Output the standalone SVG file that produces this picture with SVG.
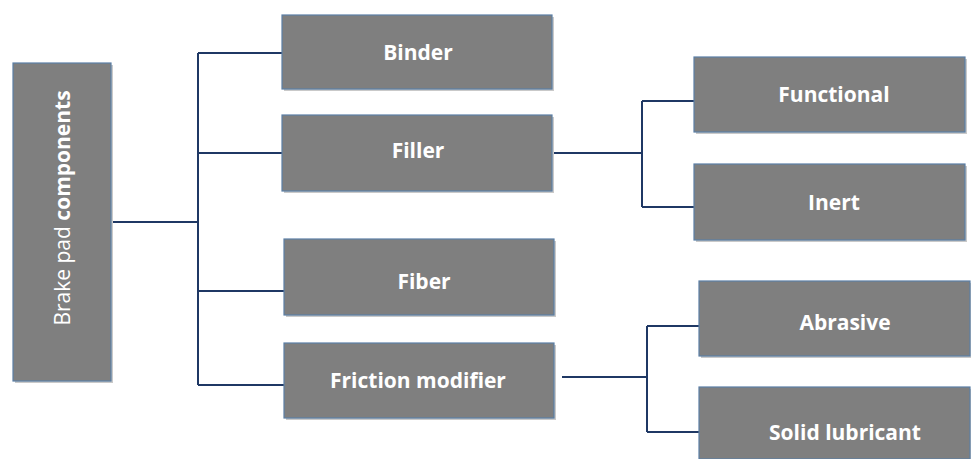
<svg xmlns="http://www.w3.org/2000/svg" width="971" height="459" viewBox="0 0 971 459">
  <style>
    .box { fill: #7f7f7f; stroke: #5b7fa6; stroke-width: 1.2; }
    .shadow { fill: #c9c9c9; }
    .lbl { fill: #ffffff; font-family: "Open Sans", "Liberation Sans", sans-serif; font-weight: 700; font-size: 21px; text-anchor: middle; dominant-baseline: central; }
    .root { fill: #ffffff; font-family: "Open Sans", "Liberation Sans", sans-serif; font-size: 21px; text-anchor: middle; dominant-baseline: central; }
    .wire { fill: none; stroke: #1f3864; stroke-width: 2; }
  </style>
  <rect width="971" height="459" fill="#ffffff"/>

  <g id="connectors">
    <path class="wire" d="M111 222 H198 M198 53 V385 M198 53 H282 M198 153 H282 M198 291 H284 M198 385 H284"/>
    <path class="wire" d="M552 153 H642 M642 101 V207 M642 101 H694 M642 207 H694"/>
    <path class="wire" d="M562 377 H647 M647 326 V432 M647 326 H699 M647 432 H699"/>
  </g>

  <g id="root">
    <rect class="shadow" x="15" y="65" width="98" height="318"/>
    <rect class="box" x="13" y="63" width="98" height="318"/>
    <text class="root" transform="translate(62 208) rotate(-90)">Brake pad <tspan font-weight="700">components</tspan></text>
  </g>

  <g id="binder">
    <rect class="shadow" x="284" y="17" width="270" height="74"/>
    <rect class="box" x="282" y="15" width="270" height="74"/>
    <text class="lbl" x="418" y="52">Binder</text>
  </g>
  <g id="filler">
    <rect class="shadow" x="284" y="117" width="270" height="76"/>
    <rect class="box" x="282" y="115" width="270" height="76"/>
    <text class="lbl" x="418" y="150">Filler</text>
  </g>
  <g id="fiber">
    <rect class="shadow" x="286" y="241" width="270" height="76"/>
    <rect class="box" x="284" y="239" width="270" height="76"/>
    <text class="lbl" x="424" y="281">Fiber</text>
  </g>
  <g id="friction-modifier">
    <rect class="shadow" x="286" y="345" width="270" height="75"/>
    <rect class="box" x="284" y="343" width="270" height="75"/>
    <text class="lbl" x="418" y="380">Friction modifier</text>
  </g>
  <g id="functional">
    <rect class="shadow" x="696" y="59" width="271" height="75"/>
    <rect class="box" x="694" y="57" width="271" height="75"/>
    <text class="lbl" x="834" y="94">Functional</text>
  </g>
  <g id="inert">
    <rect class="shadow" x="696" y="166" width="271" height="76"/>
    <rect class="box" x="694" y="164" width="271" height="76"/>
    <text class="lbl" x="834" y="202">Inert</text>
  </g>
  <g id="abrasive">
    <rect class="shadow" x="701" y="283" width="271" height="75"/>
    <rect class="box" x="699" y="281" width="271" height="75"/>
    <text class="lbl" x="845" y="322">Abrasive</text>
  </g>
  <g id="solid-lubricant">
    <rect class="shadow" x="701" y="389" width="271" height="72"/>
    <rect class="box" x="699" y="387" width="271" height="72"/>
    <text class="lbl" x="845" y="432">Solid lubricant</text>
  </g>
</svg>
